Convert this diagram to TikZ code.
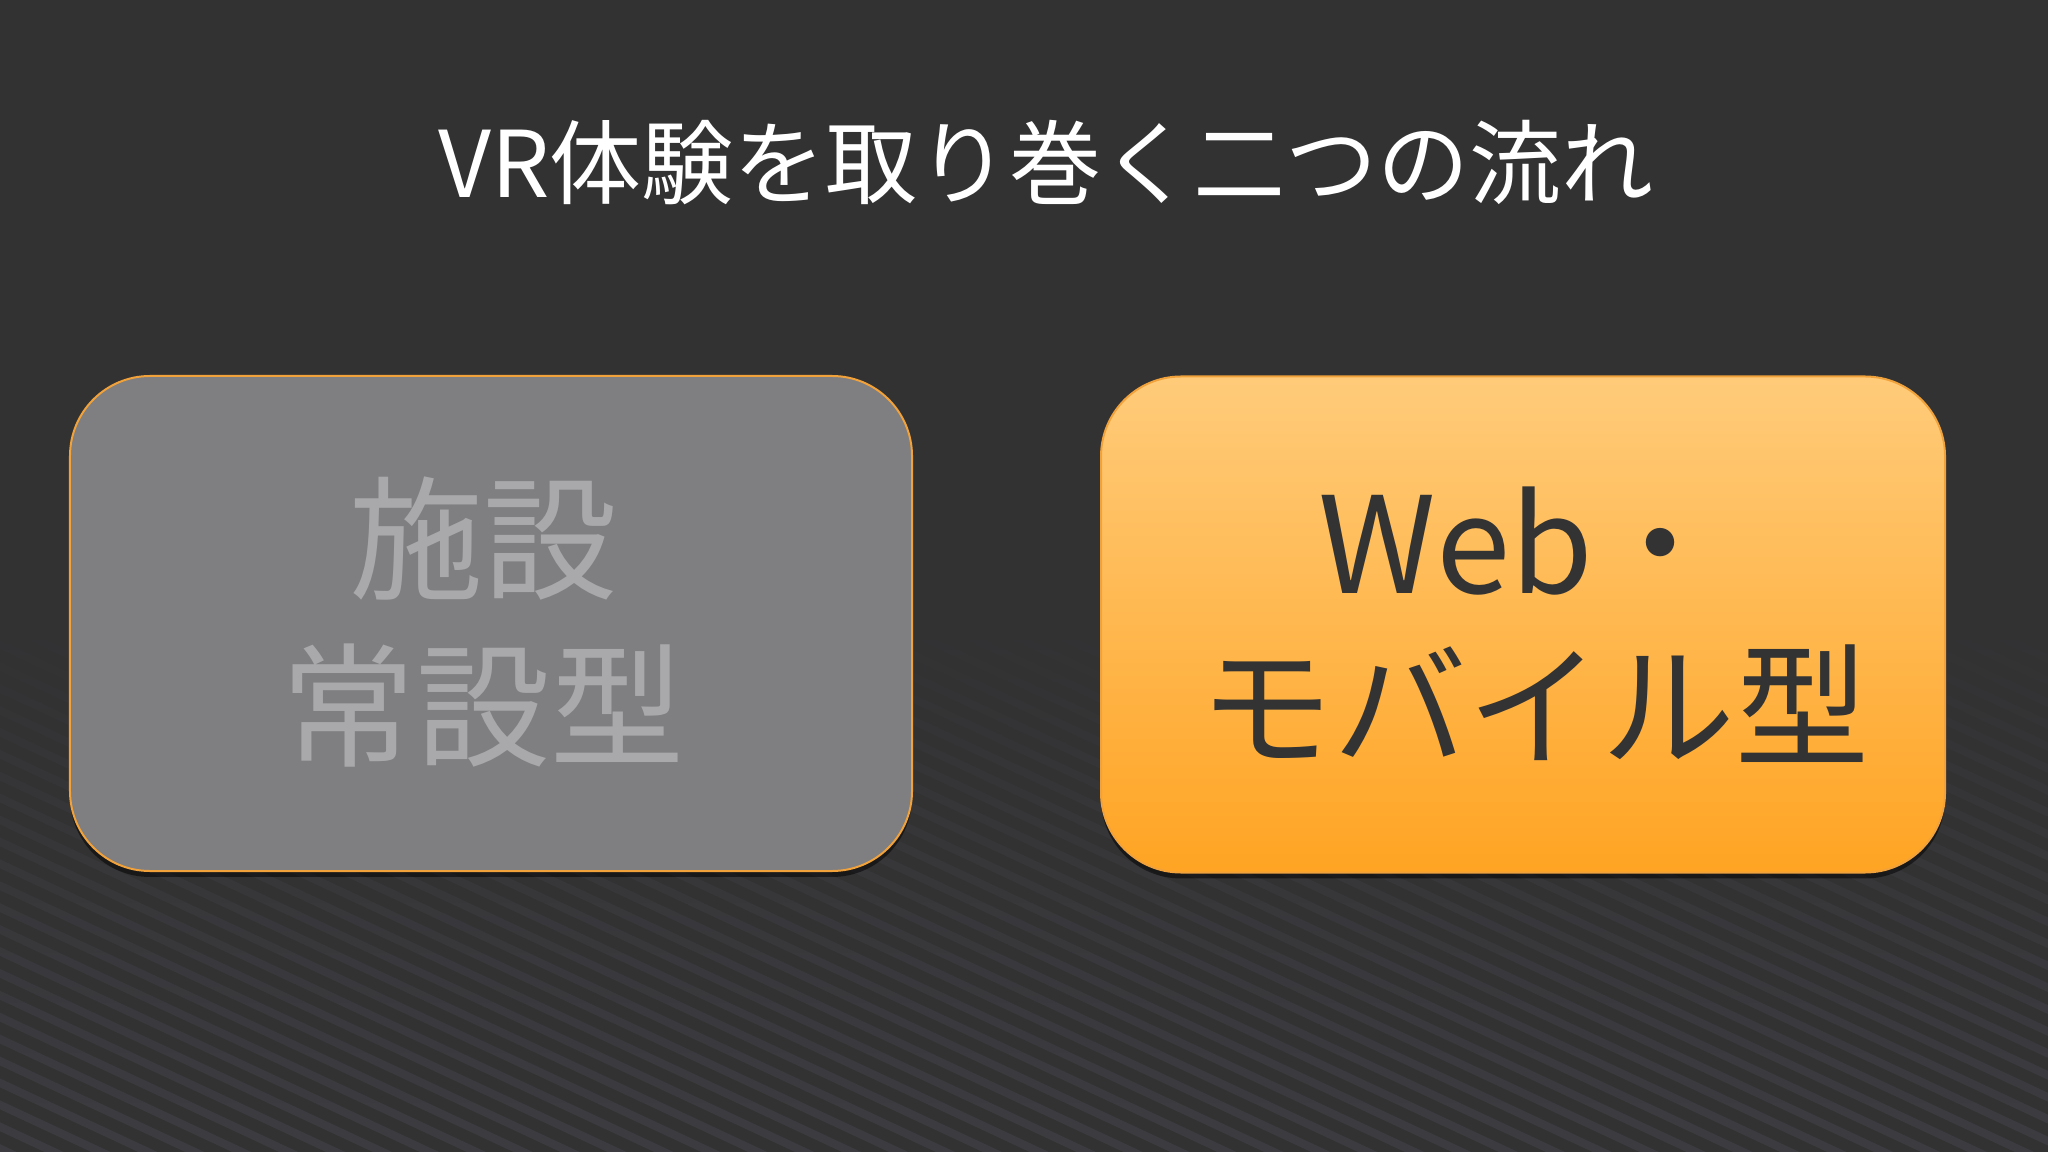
\documentclass[tikz,border=0pt]{standalone}
\usepackage{fontspec}
\setmainfont{Noto Sans CJK JP}
\usetikzlibrary{fadings,shadows}
\definecolor{bgcol}{HTML}{323233}
\definecolor{stripecol}{HTML}{3D3C41}
\definecolor{graybox}{HTML}{7F7E80}
\definecolor{graytext}{HTML}{A9A8AB}
\definecolor{orangeedge}{HTML}{F2A23A}
\definecolor{orangetop}{HTML}{FFCB7A}
\definecolor{orangebot}{HTML}{FFA423}
\definecolor{darktext}{HTML}{333333}
\tikzfading[name=stripefade, top color=transparent!100, bottom color=transparent!0]
\tikzset{
  panel/.style={rectangle, rounded corners=40bp, line width=1pt, draw=orangeedge,
    drop shadow={shadow xshift=0pt, shadow yshift=-3pt, opacity=0.5, fill=black}},
  bigtext/.style={anchor=base, inner sep=0pt, font=\fontsize{67bp}{80bp}\selectfont},
  titletext/.style={anchor=base, inner sep=0pt, text=white, font=\fontsize{46bp}{55bp}\selectfont}
}
\begin{document}
\begin{tikzpicture}[x=0.5bp,y=-0.5bp]
  \fill[bgcol] (0,0) rectangle (2048,1152);
  \useasboundingbox (0,0) rectangle (2048,1152);
  \begin{scope}
    \clip (0,600) rectangle (2048,1152);
    \fill[stripecol, path fading=stripefade]
      foreach \x in {-1320,-1273,...,2060} { (\x,600) -- ++(19,0) -- ++(1184,552) -- ++(-19,0) -- cycle };
  \end{scope}
  \node[titletext] (title) at (1046,198) {VR体験を取り巻く二つの流れ};
  \node[panel, fill=graybox, minimum width=421bp, minimum height=247.5bp] (left) at (491,623.5) {};
  \node[panel, top color=orangetop, bottom color=orangebot, minimum width=422bp, minimum height=248bp] (right) at (1523,624.5) {};
  \node[bigtext, text=graytext] (l1) at (483,590) {施設};
  \node[bigtext, text=graytext] (l2) at (483,756) {常設型};
  \node[bigtext, text=darktext] (r1) at (1523,594) {Web・};
  \node[bigtext, text=darktext] (r2) at (1534,756) {モバイル型};
\end{tikzpicture}
\end{document}
